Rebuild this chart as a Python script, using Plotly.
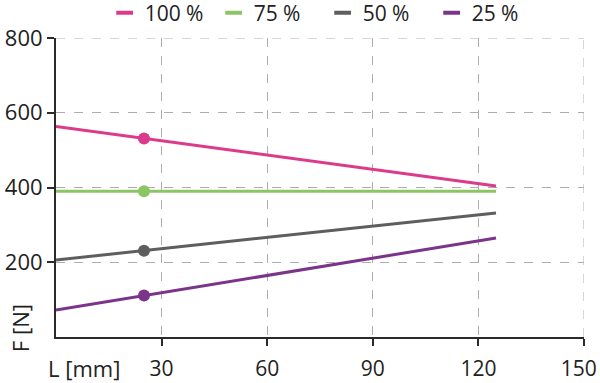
import plotly.graph_objects as go

# Data
series_names = ["100 %", "75 %", "50 %", "25 %"]
line_x = [0, 125]
line_100 = [563, 404]
line_75 = [390, 390]
line_50 = [206, 332]
line_25 = [72, 265]
marker_x = [25]
marker_100 = [531]
marker_75 = [390]
marker_50 = [231]
marker_25 = [111]
x_ticks = [30, 60, 90, 120, 150]
x_tick_labels = ["30", "60", "90", "120", "150\u2002"]
y_ticks = [200, 400, 600, 800]

colors = ["#DC3B8B", "#8CC662", "#5E5E5E", "#7A3489"]
lines = [line_100, line_75, line_50, line_25]
markers = [marker_100, marker_75, marker_50, marker_25]

FONT = "Open Sans"
TXT = "#222222"
fig = go.Figure()
for name, ly, my, c in zip(series_names, lines, markers, colors):
    fig.add_trace(go.Scatter(x=line_x, y=ly, mode="lines", name=name,
                             line=dict(color=c, width=3), legendgroup=name,
                             showlegend=False))
    fig.add_trace(go.Scatter(x=marker_x, y=my, mode="markers", name=name,
                             marker=dict(color=c, size=12), legendgroup=name,
                             showlegend=False))
    # legend entry (short dash swatch)
    fig.add_trace(go.Scatter(x=[None], y=[None], mode="markers", name=name,
                             marker=dict(symbol="line-ew", size=12, color=c,
                                         line=dict(color=c, width=4)),
                             legendgroup=name, showlegend=True))

fig.update_layout(
    width=600, height=383,
    margin=dict(l=56, r=16, t=38, b=46, autoexpand=False),
    paper_bgcolor="white", plot_bgcolor="white",
    font=dict(family=FONT, color=TXT, size=20),
    showlegend=True,
    legend=dict(orientation="h", x=0.505, xanchor="center", y=1.152, yanchor="top",
                yref="paper", font=dict(size=21, family=FONT, color=TXT),
                itemwidth=30, tracegroupgap=0, bgcolor="rgba(0,0,0,0)",
                entrywidth=64, entrywidthmode="pixels"),
    xaxis=dict(range=[0, 150], tickvals=x_ticks, ticktext=x_tick_labels,
               showgrid=True, gridcolor="#ADADAD", griddash="dash", gridwidth=1,
               showline=True, linecolor="#2A2A2A", linewidth=2, automargin=False,
               ticks="outside", ticklen=7, tickwidth=2, tickcolor="#2A2A2A",
               ticklabeloverflow="allow", ticklabelstandoff=5,
               zeroline=False, tickfont=dict(size=21, family=FONT, color=TXT)),
    yaxis=dict(range=[0, 800], tickvals=y_ticks, ticktext=[str(v) for v in y_ticks],
               showgrid=True, gridcolor="#ADADAD", griddash="dash", gridwidth=1,
               showline=True, linecolor="#2A2A2A", linewidth=2, automargin=False,
               ticks="outside", ticklen=7, tickwidth=2, tickcolor="#2A2A2A",
               ticklabeloverflow="allow",
               zeroline=False, tickfont=dict(size=22, family=FONT, color=TXT)),
    shapes=[
        dict(type="line", xref="paper", yref="y", x0=0, x1=1, y0=800, y1=800,
             line=dict(color="#ADADAD", width=1, dash="dash"), layer="below"),
        dict(type="line", xref="x", yref="paper", x0=150, x1=150, y0=0, y1=1,
             line=dict(color="#ADADAD", width=1, dash="dash"), layer="below"),
    ],
    annotations=[
        dict(text="L [mm]", xref="paper", yref="paper", x=-0.018, xanchor="left",
             y=-0.103, yanchor="middle", showarrow=False,
             font=dict(size=22, family=FONT, color=TXT)),
        dict(text="F [N]", xref="paper", yref="paper", x=-0.068, xanchor="center",
             y=0.03, yanchor="middle", showarrow=False, textangle=-90,
             font=dict(size=22, family=FONT, color=TXT)),
    ],
)
fig.write_html("out.html", config={"displayModeBar": False},
               post_script="document.body.style.margin='0';document.body.style.overflow='hidden';")
